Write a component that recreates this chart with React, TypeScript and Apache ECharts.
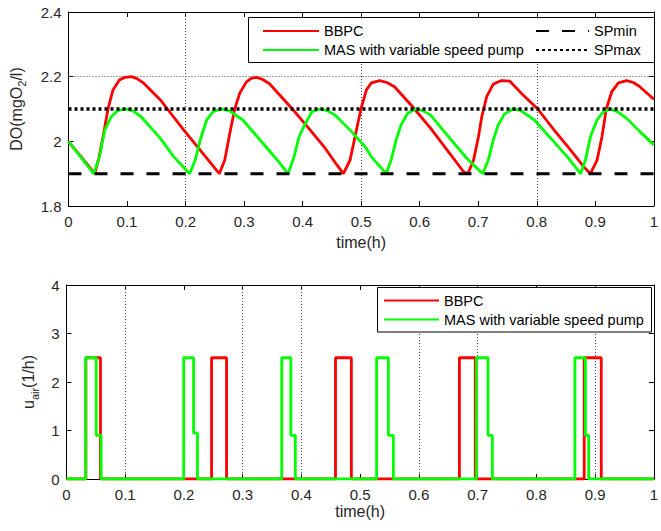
import React, { useEffect, useRef } from "react";
import * as echarts from "echarts";

const FONT = '"Liberation Sans", Arial, Helvetica, sans-serif';
const TEXT = "#262626";
const RED = "#ff0000";
const GREEN = "#00ff00";

// axis ranges [min, max, interval]
const timeAxis = [0, 1, 0.1];
const doAxis = [1.8, 2.4, 0.2];
const airAxis = [0, 4, 1];

// set points
const spMin = 1.9;
const spMax = 2.1;

// dissolved oxygen, [time h, mgO2/l]
const bbpcDO: number[][] = [
  [0, 2.0], [0.045, 1.9], [0.052, 1.95], [0.059, 2.014], [0.0675, 2.1], [0.076, 2.159], [0.087, 2.19],
  [0.097, 2.198], [0.107, 2.2], [0.117, 2.194], [0.129, 2.179], [0.157, 2.128], [0.169, 2.1], [0.197, 2.035],
  [0.225, 1.973], [0.2576, 1.9],
  [0.267, 1.942], [0.2756, 2.025], [0.284, 2.1], [0.2926, 2.149], [0.304, 2.184], [0.312, 2.195], [0.3207, 2.198],
  [0.331, 2.192], [0.343, 2.179], [0.3825, 2.1], [0.4106, 2.04], [0.4388, 1.978], [0.4585, 1.927], [0.4697, 1.9],
  [0.481, 1.942], [0.4895, 2.014], [0.4996, 2.1], [0.509, 2.159], [0.5175, 2.181], [0.5316, 2.188], [0.544, 2.182],
  [0.557, 2.169], [0.5879, 2.107], [0.6188, 2.04], [0.647, 1.973], [0.675, 1.906], [0.6824, 1.9],
  [0.692, 1.942], [0.7004, 2.014], [0.706, 2.076], [0.7144, 2.138], [0.7257, 2.177], [0.7397, 2.188], [0.754, 2.186],
  [0.7735, 2.149], [0.8017, 2.1], [0.8297, 2.035], [0.8579, 1.973], [0.8804, 1.921], [0.8917, 1.9],
  [0.903, 1.942], [0.9114, 2.014], [0.9187, 2.1], [0.9283, 2.154], [0.9395, 2.181], [0.9536, 2.188], [0.965, 2.182],
  [0.976, 2.169], [1.0, 2.13],
];

const masDO: number[][] = [
  [0, 2.0], [0.043, 1.9], [0.053, 1.952], [0.062, 2.035], [0.073, 2.076], [0.084, 2.095], [0.098, 2.1],
  [0.11, 2.094], [0.124, 2.076], [0.157, 2.009], [0.18, 1.952], [0.207, 1.9],
  [0.2165, 1.942], [0.225, 2.004], [0.236, 2.066], [0.247, 2.092], [0.2616, 2.1], [0.275, 2.094], [0.298, 2.066],
  [0.332, 1.994], [0.3544, 1.947], [0.3752, 1.9],
  [0.3853, 1.952], [0.3938, 2.014], [0.405, 2.056], [0.416, 2.092], [0.43, 2.1], [0.442, 2.095], [0.4557, 2.081],
  [0.4837, 2.03], [0.509, 1.978], [0.5175, 1.952], [0.5428, 1.9],
  [0.5512, 1.942], [0.5597, 2.004], [0.568, 2.05], [0.5794, 2.087], [0.5934, 2.1], [0.605, 2.095], [0.6188, 2.081],
  [0.647, 2.019], [0.6807, 1.947], [0.7077, 1.9],
  [0.7173, 1.942], [0.7257, 2.004], [0.734, 2.05], [0.745, 2.085], [0.7595, 2.1], [0.772, 2.096], [0.796, 2.066],
  [0.824, 2.009], [0.8523, 1.952], [0.8748, 1.9],
  [0.8832, 1.942], [0.8917, 2.014], [0.903, 2.066], [0.914, 2.092], [0.9254, 2.1], [0.938, 2.092], [0.9536, 2.071],
  [0.976, 2.03], [1.0, 1.989],
];

// air flow rate, [time h, 1/h] — value holds until the next point
const bbpcAir: number[][] = [
  [0, 0], [0.033, 2.5], [0.0578, 0], [0.247, 2.5], [0.2725, 0], [0.458, 2.5], [0.485, 0],
  [0.669, 2.5], [0.696, 0], [0.8815, 2.5], [0.9105, 0], [1, 0],
];

const masAir: number[][] = [
  [0, 0], [0.0326, 2.5], [0.0506, 0.9], [0.059, 0], [0.1995, 2.5], [0.2164, 0.95], [0.223, 0],
  [0.3665, 2.5], [0.382, 0.9], [0.3896, 0], [0.528, 2.5], [0.548, 0.9], [0.5565, 0],
  [0.698, 2.5], [0.7177, 0.9], [0.725, 0], [0.8656, 2.5], [0.8835, 0.9], [0.889, 0], [1, 0],
];

// dotted grid lines as they appear
const topGridTimes = [0.2, 0.5, 0.8];
const topGridLevels = [2.2];
const bottomGridTimes = [0.1, 0.3, 0.4, 0.6, 0.7, 0.9];

const NAMES = ["BBPC", "MAS with variable speed pump", "SPmin", "SPmax"];

const fmt = (v: number) => String(Number(v.toFixed(2)));

function axisBase(range: number[], showLabels: boolean, position: string, gridIndex: number) {
  return {
    type: "value",
    gridIndex,
    position,
    min: range[0],
    max: range[1],
    interval: range[2],
    axisLine: { show: true, onZero: false, lineStyle: { color: "#000", width: 1 } },
    axisTick: { show: true, inside: true, length: 5, lineStyle: { color: "#000", width: 1 } },
    axisLabel: {
      show: showLabels,
      formatter: fmt,
      color: TEXT,
      fontFamily: FONT,
      fontSize: 15,
      margin: position === "bottom" ? 8 : 7,
    },
    splitLine: { show: false },
  };
}

const gridLineStyle = { type: [1, 2], color: "#444", width: 1 };

function markGrid(times: number[], levels: number[]) {
  return {
    silent: true,
    symbol: "none",
    z: 1,
    label: { show: false },
    lineStyle: gridLineStyle,
    emphasis: { disabled: true },
    data: [...times.map((t) => ({ xAxis: t })), ...levels.map((v) => ({ yAxis: v }))],
  };
}

const nameRich = {
  n: { fontSize: 16, color: TEXT, fontFamily: FONT },
  s: { fontSize: 11, color: TEXT, fontFamily: FONT, verticalAlign: "bottom", padding: [12, 0, 0, 0] },
};

const legendText = { color: "#000", fontFamily: FONT, fontSize: 14.5 };

function legendBox(names: string[], left: number, top: number, itemWidth: number) {
  return {
    data: names,
    orient: "vertical",
    left,
    top,
    padding: 0,
    itemWidth,
    itemHeight: 14,
    itemGap: 4,
    selectedMode: false,
    textStyle: legendText,
    itemStyle: { opacity: 0, borderWidth: 0 },
    z: 5,
  };
}

const option: any = {
  animation: false,
  backgroundColor: "#fff",
  grid: [
    { left: 66.5, top: 12, width: 592.5, height: 194 },
    { left: 66.5, top: 285, width: 592.5, height: 194 },
  ],
  xAxis: [
    {
      ...axisBase(timeAxis, true, "bottom", 0),
      name: "time(h)",
      nameLocation: "middle",
      nameGap: 28,
      nameTextStyle: { color: TEXT, fontFamily: FONT, fontSize: 16 },
    },
    axisBase(timeAxis, false, "top", 0),
    {
      ...axisBase(timeAxis, true, "bottom", 1),
      name: "time(h)",
      nameLocation: "middle",
      nameGap: 24,
      nameTextStyle: { color: TEXT, fontFamily: FONT, fontSize: 16 },
    },
    axisBase(timeAxis, false, "top", 1),
  ],
  yAxis: [
    {
      ...axisBase(doAxis, true, "left", 0),
      name: "{n|DO(mgO}{s|2}{n|/l)}",
      nameLocation: "middle",
      nameGap: 41,
      nameTextStyle: { rich: nameRich },
    },
    axisBase(doAxis, false, "right", 0),
    {
      ...axisBase(airAxis, true, "left", 1),
      name: "{n|u}{s|air}{n|(1/h)}",
      nameLocation: "middle",
      nameGap: 25,
      nameTextStyle: { rich: nameRich },
    },
    axisBase(airAxis, false, "right", 1),
  ],
  graphic: [
    {
      type: "rect",
      z: 3,
      shape: { x: 248.5, y: 17.5, width: 406, height: 45 },
      style: { fill: "#fff", stroke: "#000", lineWidth: 1 },
    },
    {
      type: "rect",
      z: 3,
      shape: { x: 377.5, y: 287.5, width: 274, height: 44.5 },
      style: { fill: "#fff", stroke: "#000", lineWidth: 1 },
    },
  ],
  legend: [
    legendBox([NAMES[0], NAMES[1]], 262, 23.5, 56),
    legendBox([NAMES[2], NAMES[3]], 535, 23.5, 53),
    legendBox([NAMES[0], NAMES[1]], 383, 293, 55),
  ],
  series: [
    {
      name: NAMES[0],
      type: "line",
      xAxisIndex: 0,
      yAxisIndex: 0,
      data: bbpcDO,
      symbol: "none",
      color: RED,
      lineStyle: { color: RED, width: 2.8 },
      markLine: markGrid(topGridTimes, topGridLevels),
    },
    {
      name: NAMES[1],
      type: "line",
      xAxisIndex: 0,
      yAxisIndex: 0,
      data: masDO,
      symbol: "none",
      color: GREEN,
      lineStyle: { color: GREEN, width: 2.8 },
    },
    {
      name: NAMES[2],
      type: "line",
      xAxisIndex: 0,
      yAxisIndex: 0,
      data: [[timeAxis[0], spMin], [timeAxis[1], spMin]],
      symbol: "none",
      color: "#000",
      lineStyle: { color: "#000", width: 3, type: [13, 13] },
    },
    {
      name: NAMES[3],
      type: "line",
      xAxisIndex: 0,
      yAxisIndex: 0,
      data: [[timeAxis[0], spMax], [timeAxis[1], spMax]],
      symbol: "none",
      color: "#000",
      lineStyle: { color: "#000", width: 3.5, type: [3, 3] },
    },
    {
      name: NAMES[0],
      type: "line",
      xAxisIndex: 2,
      yAxisIndex: 2,
      data: bbpcAir,
      step: "end",
      symbol: "none",
      color: RED,
      lineStyle: { color: RED, width: 2.8 },
      markLine: markGrid(bottomGridTimes, []),
    },
    {
      name: NAMES[1],
      type: "line",
      xAxisIndex: 2,
      yAxisIndex: 2,
      data: masAir,
      step: "end",
      symbol: "none",
      color: GREEN,
      lineStyle: { color: GREEN, width: 2.8 },
    },
  ],
};

export default function App() {
  const ref = useRef<HTMLDivElement>(null);
  useEffect(() => {
    const chart = echarts.init(ref.current!, null, { renderer: "svg" });
    chart.setOption(option);
    return () => chart.dispose();
  }, []);
  return (
    <div
      ref={ref}
      style={{ position: "fixed", left: 0, top: 0, width: 661, height: 531, background: "#fff" }}
    />
  );
}
